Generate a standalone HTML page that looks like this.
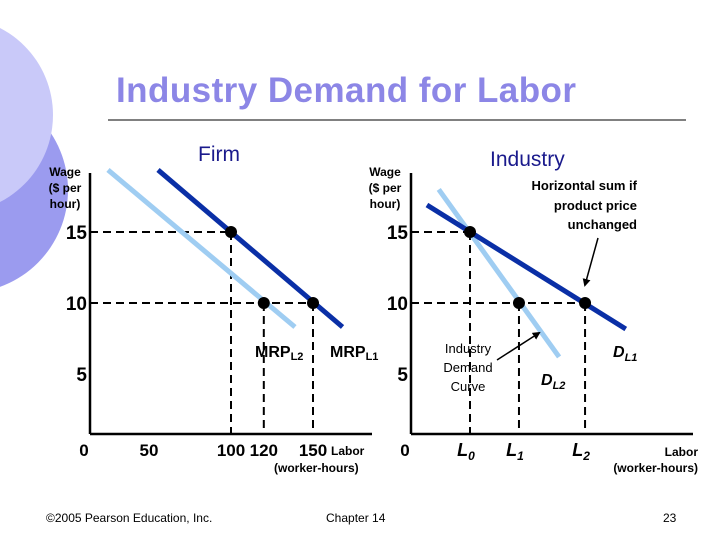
<!DOCTYPE html>
<html><head><meta charset="utf-8"><style>
body{margin:0;width:720px;height:540px;overflow:hidden;background:#fff;font-family:"Liberation Sans",Arial,sans-serif}
svg{display:block}
</style></head><body>
<svg width="720" height="540" xmlns="http://www.w3.org/2000/svg" font-family="Liberation Sans, Arial, sans-serif">
<defs><marker id="ah" markerWidth="8" markerHeight="8" refX="6" refY="4" orient="auto" markerUnits="userSpaceOnUse"><path d="M0,0 L8,4 L0,8 z" fill="#000"/></marker></defs>
<circle cx="-35" cy="190" r="103" fill="#9b9bef"/>
<circle cx="-45" cy="115" r="98" fill="#c9c9f9"/>
<text x="346" y="102" text-anchor="middle" font-size="35" font-weight="bold" fill="#8c86e6" textLength="460">Industry Demand for Labor</text>
<line x1="108" y1="120" x2="686" y2="120" stroke="#000" stroke-width="1"/>
<text x="198" y="161" font-size="21" fill="#1a1a8c">Firm</text>
<text x="490" y="166" font-size="21" fill="#1a1a8c">Industry</text>
<g id="chart"></g>
<g font-weight="bold" fill="#000">
<text x="331" y="455" font-size="12">Labor</text>
<text x="274" y="472" font-size="12">(worker-hours)</text>
<text x="698" y="456" font-size="12" text-anchor="end">Labor</text>
<text x="698" y="472" font-size="12" text-anchor="end">(worker-hours)</text>
<g font-size="12" text-anchor="middle">
<text x="65" y="176">Wage</text><text x="65" y="192">($ per</text><text x="65" y="208">hour)</text></g>
<g font-size="12" text-anchor="middle">
<text x="385" y="176">Wage</text><text x="385" y="192">($ per</text><text x="385" y="208">hour)</text></g>
<text x="255" y="357" font-size="16">MRP<tspan font-size="11" dy="3">L2</tspan></text>
<text x="330" y="357" font-size="16">MRP<tspan font-size="11" dy="3">L1</tspan></text>
<text x="613" y="357" font-size="16" font-style="italic">D<tspan font-size="11" dy="4">L1</tspan></text>
<text x="541" y="385" font-size="16" font-style="italic">D<tspan font-size="11" dy="4">L2</tspan></text>
<g font-size="13" text-anchor="end">
<text x="637" y="190">Horizontal sum if</text><text x="637" y="210">product price</text><text x="637" y="229">unchanged</text></g>
</g>
<g font-size="13" text-anchor="middle" fill="#000">
<text x="468" y="353">Industry</text><text x="468" y="372">Demand</text><text x="468" y="391">Curve</text></g>
<line x1="598" y1="238" x2="585" y2="285" stroke="#000" stroke-width="1.5" marker-end="url(#ah)"/>
<line x1="497" y1="360" x2="539" y2="333" stroke="#000" stroke-width="1.5" marker-end="url(#ah)"/>
<text x="46" y="522" font-size="12" fill="#000">©2005 Pearson Education, Inc.</text>
<text x="326" y="522" font-size="12" fill="#000">Chapter 14</text>
<text x="663" y="522" font-size="12" fill="#000">23</text>
</svg>
<script>
const wageTicks=[15,10,5];
const firmQLabels=["50","100","120","150"];
const firmQTickVals=[50,100,120,150];
const mrpL1=[[55.5,19.37],[168,8.31]];
const mrpL2=[[25,19.37],[139,8.31]];
const firmPoints=[[100,15],[120,10],[150,10]];
const indQ=[100,183,295];
const indQLabels=["L0","L1","L2"];
const dL1=[[27,16.9],[364,8.17]];
const dL2=[[47,18.0],[251,6.2]];
const indPoints=[[100,15],[183,10],[295,10]];

const NS="http://www.w3.org/2000/svg";
const g=document.getElementById('chart');
const yW=w=>303-(w-10)*14.2;
const xF=q=>67+q*1.64;
const xI=q=>411+q*0.59;
function el(tag,attrs,text){const e=document.createElementNS(NS,tag);for(const k in attrs)e.setAttribute(k,attrs[k]);if(text!==undefined)e.textContent=text;g.appendChild(e);return e;}

function panel(ax,axEnd,xs,pts,c1,c2,pfx){
  let e=el('line',{x1:ax,y1:173,x2:ax,y2:434,stroke:'#000','stroke-width':2.5});
  
  
  e=el('line',{x1:ax,y1:434,x2:axEnd,y2:434,stroke:'#000','stroke-width':2.5});
  
  
  wageTicks.forEach(w=>{
    e=el('text',{x:ax-3,y:yW(w)+7,'text-anchor':'end','font-size':19,'font-weight':'bold'},String(w));
    
    
  });
  e=el('text',{x:ax-6,y:456,'text-anchor':'middle','font-size':17,'font-weight':'bold'},'0');
  
  
  pts.forEach((p,i)=>{
    const x=xs(p[0]),y=yW(p[1]);
    e=el('line',{x1:ax,y1:y,x2:x,y2:y,stroke:'#000','stroke-width':2,'stroke-dasharray':'8,5'});
    
    
    e=el('line',{x1:x,y1:y,x2:x,y2:434,stroke:'#000','stroke-width':2,'stroke-dasharray':'8,5'});
    
    
  });
  e=el('line',{x1:xs(c2[0][0]),y1:yW(c2[0][1]),x2:xs(c2[1][0]),y2:yW(c2[1][1]),stroke:'#9fcdf2','stroke-width':5});
  
  
  e=el('line',{x1:xs(c1[0][0]),y1:yW(c1[0][1]),x2:xs(c1[1][0]),y2:yW(c1[1][1]),stroke:'#0a2fa6','stroke-width':5});
  
  
  pts.forEach((p,i)=>{
    e=el('circle',{cx:xs(p[0]),cy:yW(p[1]),r:6,fill:'#000'});
    
    
  });
}
panel(90,372,xF,firmPoints,mrpL1,mrpL2,'firm');
panel(411,693,xI,indPoints,dL1,dL2,'industry');
firmQTickVals.forEach((q,i)=>{
  let e=el('text',{x:xF(q),y:456,'text-anchor':'middle','font-size':17,'font-weight':'bold'},firmQLabels[i]);
  
  
});
indQ.forEach((q,i)=>{
  let e=el('text',{x:xI(q)-4,y:456,'text-anchor':'middle','font-size':18,'font-weight':'bold','font-style':'italic'});
  
  
  e.innerHTML=indQLabels[i][0]+'<tspan font-size="12" dy="4">'+indQLabels[i].slice(1)+'</tspan>';
});
</script>
</body></html>
